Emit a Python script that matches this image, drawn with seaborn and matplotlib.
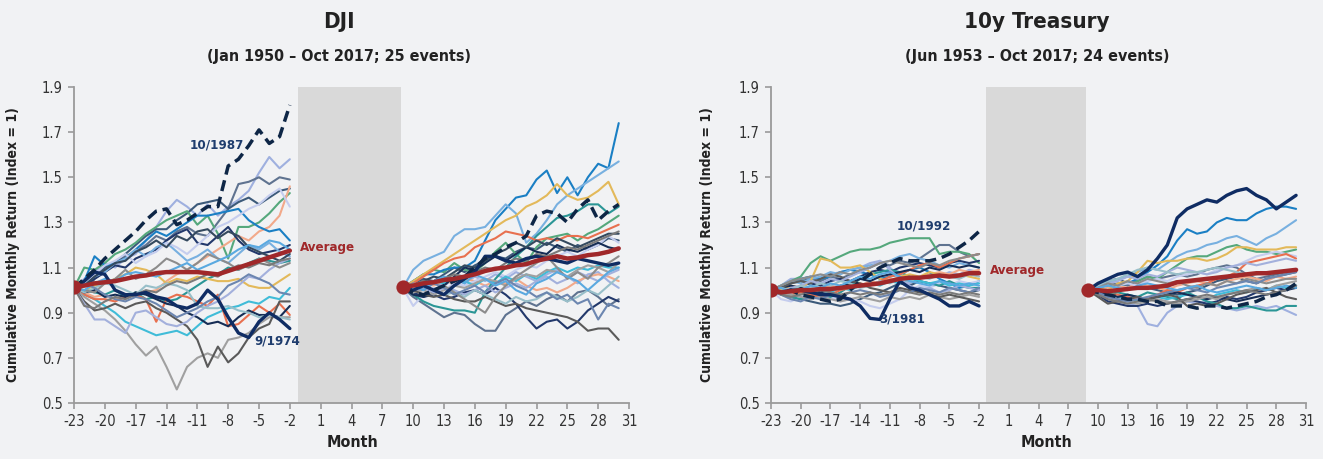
import numpy as np
import matplotlib
matplotlib.use("Agg")
import matplotlib.pyplot as plt
from matplotlib import font_manager as fm
import seaborn as sns

# ---------------- data ----------------
months_pre = list(range(-23, -1))   # -23 .. -2
months_post = list(range(9, 31))    # 9 .. 30
x_ticks = list(range(-23, 32, 3))
y_ticks = [0.5, 0.7, 0.9, 1.1, 1.3, 1.5, 1.7, 1.9]

dji_title = "DJI"
dji_subtitle = "(Jan 1950 \u2013 Oct 2017; 25 events)"
tsy_title = "10y Treasury"
tsy_subtitle = "(Jun 1953 \u2013 Oct 2017; 24 events)"

# DJI: highlighted episodes and cross-event average
dji_pre_1987 = [1.01, 1.05, 1.09, 1.14, 1.18, 1.22, 1.26, 1.31, 1.35, 1.36, 1.29, 1.31, 1.34, 1.37, 1.37, 1.55, 1.58, 1.64, 1.71, 1.65, 1.68, 1.82]
dji_post_1987 = [1.01, 0.99, 0.98, 1.00, 1.02, 1.04, 1.06, 1.10, 1.14, 1.16, 1.19, 1.21, 1.24, 1.33, 1.35, 1.34, 1.30, 1.36, 1.40, 1.31, 1.35, 1.38]
dji_pre_1974 = [1.01, 1.04, 1.08, 1.07, 1.00, 0.98, 0.98, 0.99, 0.97, 0.96, 0.93, 0.92, 0.94, 1.00, 0.96, 0.88, 0.81, 0.79, 0.86, 0.90, 0.87, 0.83]
dji_post_1974 = [1.01, 1.00, 1.02, 1.00, 0.98, 1.02, 1.05, 1.08, 1.15, 1.15, 1.13, 1.12, 1.14, 1.15, 1.14, 1.13, 1.12, 1.14, 1.13, 1.12, 1.11, 1.12]
dji_pre_avg = [1.015, 1.02, 1.03, 1.035, 1.04, 1.05, 1.06, 1.065, 1.075, 1.08, 1.08, 1.08, 1.08, 1.075, 1.07, 1.085, 1.10, 1.115, 1.13, 1.145, 1.16, 1.175]
dji_post_avg = [1.015, 1.02, 1.03, 1.035, 1.045, 1.05, 1.06, 1.07, 1.085, 1.095, 1.10, 1.11, 1.115, 1.13, 1.14, 1.15, 1.14, 1.145, 1.155, 1.16, 1.17, 1.185]

# DJI: remaining episodes (same order in both windows)
dji_pre_other = [
    [1.01, 1.05, 1.08, 1.12, 1.10, 1.14, 1.16, 1.22, 1.28, 1.35, 1.40, 1.37, 1.33, 1.38, 1.33, 1.37, 1.40, 1.44, 1.52, 1.59, 1.54, 1.58],
    [1.01, 0.98, 1.05, 1.08, 1.12, 1.15, 1.17, 1.20, 1.24, 1.22, 1.26, 1.28, 1.25, 1.24, 1.30, 1.36, 1.47, 1.48, 1.50, 1.47, 1.50, 1.49],
    [1.01, 1.03, 1.06, 1.10, 1.12, 1.16, 1.20, 1.24, 1.27, 1.27, 1.31, 1.34, 1.38, 1.39, 1.40, 1.36, 1.39, 1.41, 1.38, 1.41, 1.44, 1.45],
    [1.01, 1.10, 1.09, 1.12, 1.16, 1.18, 1.21, 1.25, 1.28, 1.31, 1.33, 1.35, 1.29, 1.33, 1.25, 1.14, 1.28, 1.28, 1.30, 1.34, 1.39, 1.43],
    [1.01, 0.99, 0.97, 0.98, 0.96, 0.98, 0.97, 0.99, 1.00, 1.04, 1.07, 1.09, 1.12, 1.15, 1.18, 1.21, 1.24, 1.22, 1.26, 1.28, 1.33, 1.46],
    [1.01, 1.04, 1.15, 1.11, 1.12, 1.14, 1.18, 1.22, 1.26, 1.24, 1.27, 1.30, 1.33, 1.33, 1.34, 1.35, 1.36, 1.31, 1.28, 1.26, 1.27, 1.22],
    [1.01, 1.02, 1.05, 1.08, 1.11, 1.10, 1.14, 1.16, 1.18, 1.22, 1.25, 1.27, 1.21, 1.20, 1.24, 1.28, 1.22, 1.18, 1.16, 1.17, 1.18, 1.20],
    [1.01, 1.03, 1.06, 1.08, 1.12, 1.14, 1.18, 1.15, 1.19, 1.21, 1.17, 1.13, 1.15, 1.18, 1.14, 1.12, 1.16, 1.20, 1.18, 1.21, 1.17, 1.15],
    [1.01, 1.03, 1.07, 1.11, 1.13, 1.16, 1.12, 1.15, 1.17, 1.21, 1.19, 1.16, 1.20, 1.24, 1.28, 1.30, 1.33, 1.36, 1.38, 1.42, 1.45, 1.37],
    [1.01, 1.00, 0.99, 0.98, 1.00, 0.97, 0.99, 0.96, 0.97, 0.95, 0.96, 0.99, 1.02, 1.05, 1.07, 1.10, 1.09, 1.12, 1.14, 1.13, 1.12, 1.13],
    [1.01, 1.00, 1.02, 1.03, 1.05, 1.07, 1.10, 1.09, 1.07, 1.03, 1.05, 1.04, 1.06, 1.05, 1.04, 1.04, 1.05, 1.02, 1.01, 1.01, 1.04, 1.07],
    [1.01, 0.98, 0.96, 0.93, 0.90, 0.86, 0.84, 0.82, 0.80, 0.81, 0.82, 0.80, 0.84, 0.88, 0.90, 0.92, 0.93, 0.95, 0.94, 0.97, 0.96, 1.01],
    [1.01, 0.98, 0.96, 0.96, 0.95, 0.97, 0.98, 0.96, 0.86, 0.96, 0.98, 0.97, 0.95, 0.93, 0.98, 0.84, 0.85, 0.89, 0.93, 0.90, 0.94, 0.89],
    [1.01, 0.99, 1.00, 0.97, 0.98, 0.97, 0.99, 0.98, 0.96, 0.94, 0.93, 0.90, 0.88, 0.85, 0.86, 0.84, 0.88, 0.91, 0.89, 0.89, 0.88, 0.93],
    [1.01, 0.97, 0.94, 0.91, 0.87, 0.82, 0.76, 0.71, 0.75, 0.66, 0.56, 0.66, 0.70, 0.72, 0.70, 0.78, 0.79, 0.81, 0.85, 0.88, 0.88, 0.88],
    [1.01, 0.95, 0.91, 0.92, 0.94, 0.92, 0.94, 0.95, 0.92, 0.90, 0.87, 0.84, 0.78, 0.66, 0.75, 0.68, 0.72, 0.79, 0.83, 0.85, 0.95, 0.95],
    [1.01, 0.94, 0.87, 0.87, 0.84, 0.81, 0.90, 0.91, 0.88, 0.85, 0.84, 0.86, 0.90, 0.93, 0.95, 0.98, 1.02, 1.06, 1.05, 1.09, 1.12, 1.14],
    [1.01, 0.99, 1.01, 1.03, 1.02, 1.00, 0.98, 1.02, 1.01, 1.03, 1.02, 1.00, 0.93, 0.92, 0.92, 0.93, 0.91, 0.90, 0.88, 0.89, 0.88, 0.87],
    [1.01, 1.00, 0.99, 1.03, 1.05, 1.09, 1.05, 1.07, 1.10, 1.14, 1.12, 1.09, 1.12, 1.16, 1.14, 1.12, 1.09, 1.11, 1.14, 1.12, 1.10, 1.12],
    [1.01, 1.03, 1.01, 0.98, 0.96, 0.95, 0.97, 0.96, 0.94, 0.91, 0.88, 0.90, 0.92, 0.95, 0.97, 1.02, 1.04, 1.07, 1.05, 1.03, 0.99, 0.98],
    [1.01, 1.02, 1.06, 1.09, 1.12, 1.13, 1.17, 1.19, 1.22, 1.19, 1.24, 1.22, 1.26, 1.27, 1.23, 1.26, 1.24, 1.19, 1.17, 1.15, 1.13, 1.16],
    [1.01, 1.00, 1.03, 1.05, 1.04, 1.07, 1.08, 1.07, 1.06, 1.08, 1.10, 1.12, 1.09, 1.11, 1.13, 1.15, 1.18, 1.20, 1.19, 1.22, 1.21, 1.18],
    [1.01, 0.93, 0.92, 0.95, 0.97, 0.96, 0.98, 1.00, 0.99, 1.02, 1.04, 1.03, 1.05, 1.07, 1.06, 1.09, 1.11, 1.10, 1.12, 1.11, 1.13, 1.14],
]
dji_post_other = [
    [1.01, 0.99, 1.01, 1.03, 1.02, 1.05, 1.03, 1.06, 1.04, 1.07, 1.05, 1.08, 1.06, 1.04, 1.07, 1.09, 1.06, 1.03, 1.07, 1.08, 1.04, 1.01],
    [1.01, 0.97, 0.94, 0.91, 0.88, 0.90, 0.89, 0.85, 0.82, 0.82, 0.89, 0.92, 0.95, 0.93, 0.96, 0.98, 0.95, 0.99, 1.00, 0.97, 0.93, 0.96],
    [1.01, 1.03, 1.05, 1.04, 1.07, 1.10, 1.08, 1.11, 1.13, 1.15, 1.14, 1.17, 1.19, 1.18, 1.21, 1.19, 1.17, 1.20, 1.18, 1.20, 1.23, 1.22],
    [1.01, 1.04, 1.07, 1.09, 1.08, 1.12, 1.09, 1.08, 1.12, 1.17, 1.21, 1.16, 1.12, 1.19, 1.23, 1.24, 1.25, 1.22, 1.25, 1.27, 1.30, 1.33],
    [1.01, 1.02, 1.03, 1.02, 1.04, 1.03, 1.05, 1.04, 1.02, 1.04, 1.03, 1.05, 1.02, 1.00, 1.01, 0.99, 1.01, 1.04, 1.06, 1.07, 1.06, 1.04],
    [1.01, 1.04, 1.07, 1.07, 1.09, 1.10, 1.10, 1.13, 1.22, 1.31, 1.36, 1.41, 1.42, 1.49, 1.53, 1.43, 1.50, 1.42, 1.50, 1.56, 1.54, 1.74],
    [1.01, 0.99, 0.97, 0.98, 0.96, 0.97, 0.99, 1.00, 0.98, 1.01, 0.98, 0.94, 0.88, 0.83, 0.86, 0.87, 0.83, 0.86, 0.91, 0.94, 0.97, 0.95],
    [1.01, 1.09, 1.13, 1.15, 1.17, 1.24, 1.27, 1.27, 1.28, 1.33, 1.38, 1.34, 1.21, 1.25, 1.31, 1.38, 1.42, 1.45, 1.48, 1.51, 1.54, 1.57],
    [1.01, 0.93, 0.98, 1.01, 1.00, 1.03, 1.02, 1.04, 1.06, 1.08, 1.06, 1.09, 1.11, 1.10, 1.13, 1.15, 1.17, 1.15, 1.18, 1.20, 1.24, 1.21],
    [1.01, 0.98, 0.95, 0.93, 0.92, 0.91, 0.91, 0.90, 0.99, 1.05, 1.10, 1.15, 1.19, 1.24, 1.28, 1.32, 1.33, 1.35, 1.38, 1.38, 1.34, 1.37],
    [1.01, 1.04, 1.07, 1.10, 1.13, 1.16, 1.19, 1.22, 1.25, 1.28, 1.31, 1.33, 1.37, 1.39, 1.42, 1.47, 1.42, 1.40, 1.41, 1.44, 1.48, 1.38],
    [1.01, 1.00, 1.02, 1.04, 1.03, 1.05, 1.04, 1.02, 1.05, 1.03, 1.06, 1.04, 1.07, 1.05, 1.08, 1.10, 1.08, 1.10, 1.09, 1.11, 1.10, 1.10],
    [1.01, 1.03, 1.06, 1.09, 1.12, 1.14, 1.15, 1.19, 1.21, 1.23, 1.26, 1.25, 1.24, 1.22, 1.23, 1.22, 1.24, 1.24, 1.23, 1.25, 1.27, 1.29],
    [1.01, 0.98, 0.97, 0.99, 1.02, 1.06, 1.10, 1.09, 1.12, 1.15, 1.13, 1.16, 1.19, 1.17, 1.16, 1.20, 1.18, 1.17, 1.19, 1.21, 1.19, 1.18],
    [1.01, 0.99, 1.00, 0.98, 1.00, 1.02, 1.01, 1.03, 1.05, 1.04, 1.02, 1.05, 1.07, 1.06, 1.09, 1.08, 1.06, 1.09, 1.11, 1.10, 1.08, 1.12],
    [1.01, 1.00, 0.98, 0.97, 0.98, 0.96, 0.95, 0.95, 0.97, 0.95, 0.93, 0.94, 0.92, 0.91, 0.90, 0.89, 0.88, 0.86, 0.82, 0.83, 0.83, 0.78],
    [1.01, 1.03, 1.01, 0.99, 1.01, 1.00, 0.98, 1.00, 1.02, 0.99, 1.01, 1.03, 1.01, 1.04, 1.06, 1.03, 1.05, 1.08, 1.06, 1.04, 1.07, 1.09],
    [1.01, 1.00, 1.02, 1.00, 0.98, 0.99, 0.97, 1.00, 0.98, 0.96, 0.94, 0.97, 0.95, 0.96, 0.99, 0.97, 0.95, 0.97, 1.00, 0.98, 1.02, 1.06],
    [1.01, 1.03, 1.02, 1.00, 1.02, 0.99, 0.96, 0.93, 0.90, 0.97, 1.02, 1.06, 1.09, 1.12, 1.15, 1.10, 1.05, 1.08, 1.05, 1.10, 1.12, 1.15],
    [1.01, 1.02, 1.00, 1.03, 1.01, 0.98, 1.00, 1.02, 0.99, 1.03, 1.05, 1.02, 1.00, 0.97, 0.99, 0.96, 0.98, 0.94, 0.96, 0.87, 0.94, 0.92],
    [1.01, 1.02, 1.04, 1.06, 1.05, 1.08, 1.11, 1.10, 1.13, 1.16, 1.18, 1.21, 1.19, 1.22, 1.20, 1.23, 1.21, 1.19, 1.21, 1.23, 1.25, 1.25],
    [1.01, 1.02, 1.00, 1.04, 1.06, 1.05, 1.03, 1.07, 1.05, 1.02, 1.04, 1.00, 0.98, 1.03, 1.05, 1.08, 1.06, 1.04, 1.00, 1.04, 1.08, 1.10],
    [1.01, 1.02, 1.04, 1.03, 1.05, 1.07, 1.06, 1.08, 1.10, 1.09, 1.12, 1.14, 1.13, 1.16, 1.15, 1.17, 1.19, 1.18, 1.20, 1.22, 1.24, 1.26],
]

# 10y Treasury: highlighted episodes and cross-event average
tsy_pre_1992 = [1.00, 0.99, 1.00, 0.98, 0.97, 0.96, 0.95, 0.96, 1.00, 1.04, 1.07, 1.10, 1.12, 1.14, 1.13, 1.13, 1.13, 1.14, 1.16, 1.19, 1.22, 1.26]
tsy_post_1992 = [1.00, 0.99, 0.98, 0.97, 0.96, 0.96, 0.95, 0.95, 0.93, 0.93, 0.93, 0.92, 0.93, 0.93, 0.92, 0.93, 0.94, 0.95, 0.97, 0.98, 1.00, 1.03]
tsy_pre_1981 = [1.00, 0.99, 1.00, 1.00, 0.99, 0.98, 0.98, 0.97, 0.96, 0.93, 0.875, 0.87, 0.96, 1.04, 1.01, 1.00, 0.98, 0.96, 0.93, 0.93, 0.95, 0.93]
tsy_post_1981 = [1.00, 1.03, 1.05, 1.07, 1.08, 1.06, 1.09, 1.14, 1.20, 1.32, 1.36, 1.38, 1.40, 1.39, 1.42, 1.44, 1.45, 1.42, 1.40, 1.36, 1.39, 1.42]
tsy_pre_avg = [1.00, 0.99, 0.995, 1.00, 1.00, 1.005, 1.005, 1.01, 1.015, 1.02, 1.025, 1.03, 1.04, 1.05, 1.055, 1.055, 1.06, 1.065, 1.06, 1.065, 1.075, 1.075]
tsy_post_avg = [1.00, 1.00, 0.995, 1.00, 1.005, 1.01, 1.01, 1.015, 1.02, 1.035, 1.04, 1.045, 1.05, 1.055, 1.06, 1.065, 1.07, 1.075, 1.075, 1.08, 1.085, 1.09]

tsy_pre_other = [
    [1.00, 1.02, 1.05, 1.05, 1.06, 1.05, 1.07, 1.08, 1.09, 1.10, 1.12, 1.13, 1.10, 1.06, 1.03, 1.05, 1.07, 1.06, 1.08, 1.07, 1.09, 1.08],
    [1.00, 1.01, 1.03, 1.04, 1.05, 1.04, 1.06, 1.05, 1.07, 1.08, 1.10, 1.12, 1.11, 1.13, 1.12, 1.14, 1.17, 1.20, 1.20, 1.17, 1.15, 1.16],
    [1.00, 0.99, 0.97, 0.96, 0.95, 0.94, 0.94, 0.93, 0.94, 0.96, 0.98, 0.99, 1.01, 1.03, 1.02, 1.04, 1.03, 1.02, 1.01, 1.00, 0.99, 1.00],
    [1.00, 1.02, 1.04, 1.06, 1.12, 1.15, 1.13, 1.15, 1.17, 1.18, 1.18, 1.19, 1.21, 1.22, 1.23, 1.23, 1.23, 1.16, 1.17, 1.17, 1.16, 1.12],
    [1.00, 1.00, 1.01, 1.00, 0.99, 1.01, 1.02, 1.01, 1.03, 1.02, 1.04, 1.03, 1.05, 1.04, 1.06, 1.05, 1.07, 1.08, 1.07, 1.09, 1.08, 1.09],
    [1.00, 1.01, 1.03, 1.05, 1.06, 1.05, 1.06, 1.08, 1.09, 1.08, 1.07, 1.05, 1.06, 1.07, 1.09, 1.10, 1.08, 1.05, 1.03, 1.01, 1.02, 1.04],
    [1.00, 1.01, 1.00, 1.02, 1.03, 1.02, 1.04, 1.05, 1.04, 1.06, 1.08, 1.09, 1.08, 1.10, 1.11, 1.12, 1.11, 1.10, 1.12, 1.13, 1.12, 1.13],
    [1.00, 1.02, 1.04, 1.03, 1.05, 1.06, 1.08, 1.07, 1.09, 1.10, 1.11, 1.12, 1.13, 1.15, 1.16, 1.14, 1.13, 1.11, 1.10, 1.12, 1.11, 1.10],
    [1.00, 0.96, 0.95, 0.97, 0.98, 0.96, 0.97, 0.95, 0.96, 0.95, 0.93, 0.92, 0.94, 0.96, 1.00, 1.02, 1.01, 1.03, 1.02, 1.04, 1.03, 1.04],
    [1.00, 0.99, 0.97, 0.96, 0.97, 0.98, 0.97, 0.99, 1.02, 1.05, 1.07, 1.08, 1.09, 1.08, 1.06, 1.04, 1.03, 1.02, 1.04, 1.02, 1.01, 1.01],
    [1.00, 1.00, 1.02, 1.01, 1.04, 1.14, 1.13, 1.10, 1.10, 1.11, 1.08, 1.05, 1.04, 1.06, 1.07, 1.06, 1.08, 1.07, 1.06, 1.07, 1.06, 1.05],
    [1.00, 0.98, 0.97, 0.99, 1.00, 0.98, 0.99, 1.01, 1.00, 1.02, 1.03, 1.02, 1.04, 1.03, 1.05, 1.04, 1.03, 1.04, 1.02, 1.03, 1.02, 1.03],
    [1.00, 0.99, 0.98, 0.99, 0.98, 0.97, 0.98, 1.00, 1.01, 1.03, 1.02, 1.04, 1.06, 1.07, 1.09, 1.11, 1.12, 1.10, 1.12, 1.14, 1.15, 1.16],
    [1.00, 1.01, 1.02, 1.01, 1.00, 0.99, 1.00, 1.02, 1.03, 1.05, 1.04, 1.06, 1.07, 1.08, 1.09, 1.08, 1.10, 1.09, 1.11, 1.10, 1.11, 1.10],
    [1.00, 0.99, 0.98, 0.97, 0.96, 0.97, 0.96, 0.95, 0.96, 0.97, 0.96, 0.95, 0.97, 0.96, 0.97, 0.96, 0.98, 0.97, 0.96, 0.97, 0.98, 0.97],
    [1.00, 1.01, 1.03, 1.04, 1.03, 1.05, 1.07, 1.06, 1.04, 1.03, 1.01, 1.00, 0.99, 1.01, 1.00, 0.99, 0.98, 0.97, 0.98, 0.97, 0.96, 0.95],
    [1.00, 0.99, 1.01, 1.02, 1.04, 1.03, 1.05, 1.04, 1.06, 1.08, 1.10, 1.13, 1.09, 1.05, 1.02, 1.00, 1.01, 0.99, 1.00, 1.02, 1.01, 1.00],
    [1.00, 1.01, 1.00, 1.02, 1.01, 1.03, 1.02, 1.04, 1.03, 1.01, 1.02, 1.04, 1.03, 1.05, 1.04, 1.06, 1.05, 1.07, 1.06, 1.05, 1.07, 1.06],
    [1.00, 1.02, 1.04, 1.05, 1.06, 1.07, 1.06, 1.08, 1.07, 1.09, 1.10, 1.12, 1.13, 1.12, 1.11, 1.10, 1.12, 1.11, 1.13, 1.14, 1.15, 1.16],
    [1.00, 0.98, 0.96, 0.95, 0.97, 0.96, 0.98, 0.97, 0.99, 1.00, 0.99, 0.97, 0.98, 1.00, 0.99, 1.01, 1.00, 0.99, 1.01, 1.00, 0.99, 1.01],
    [1.00, 1.01, 0.99, 1.00, 1.02, 1.01, 1.03, 1.02, 1.04, 1.06, 1.05, 1.07, 1.08, 1.06, 1.04, 1.03, 1.02, 1.04, 1.03, 1.02, 1.03, 1.02],
    [1.00, 0.98, 0.97, 0.98, 0.99, 1.00, 0.99, 0.98, 0.99, 0.98, 0.99, 0.98, 0.99, 1.00, 0.99, 0.98, 0.99, 0.98, 0.99, 0.98, 0.99, 0.98],
]
tsy_post_other = [
    [1.00, 0.98, 0.96, 0.95, 0.94, 0.93, 0.85, 0.84, 0.90, 0.93, 0.95, 0.94, 0.95, 0.93, 0.92, 0.91, 0.92, 0.93, 0.92, 0.93, 0.91, 0.89],
    [1.00, 1.01, 1.02, 1.03, 1.02, 1.04, 1.06, 1.05, 1.06, 1.07, 1.06, 1.07, 1.09, 1.10, 1.11, 1.10, 1.07, 1.05, 1.06, 1.07, 1.08, 1.08],
    [1.00, 1.02, 1.04, 1.05, 1.03, 1.02, 1.01, 1.00, 0.99, 0.98, 0.99, 1.00, 1.02, 1.04, 1.05, 1.06, 1.04, 1.03, 1.05, 1.06, 1.07, 1.08],
    [1.00, 0.99, 1.01, 1.02, 1.03, 1.04, 1.06, 1.05, 1.08, 1.11, 1.14, 1.15, 1.15, 1.17, 1.19, 1.20, 1.18, 1.17, 1.17, 1.16, 1.17, 1.18],
    [1.00, 1.00, 1.01, 1.02, 1.01, 1.03, 1.02, 1.01, 1.00, 1.02, 1.03, 1.04, 1.03, 1.02, 1.04, 1.05, 1.06, 1.05, 1.04, 1.06, 1.05, 1.06],
    [1.00, 1.01, 1.00, 1.02, 1.03, 1.05, 1.08, 1.11, 1.15, 1.22, 1.27, 1.25, 1.26, 1.30, 1.32, 1.31, 1.31, 1.34, 1.36, 1.37, 1.37, 1.36],
    [1.00, 0.98, 0.95, 0.94, 0.93, 0.93, 0.94, 0.93, 0.94, 0.95, 0.96, 0.95, 0.94, 0.95, 0.97, 0.96, 0.97, 0.99, 1.00, 1.01, 1.00, 1.02],
    [1.00, 1.01, 1.03, 1.05, 1.06, 1.08, 1.10, 1.09, 1.12, 1.15, 1.17, 1.18, 1.20, 1.21, 1.23, 1.24, 1.22, 1.20, 1.23, 1.25, 1.28, 1.31],
    [1.00, 1.01, 1.00, 1.02, 1.03, 1.02, 1.04, 1.05, 1.04, 1.06, 1.07, 1.08, 1.07, 1.09, 1.10, 1.11, 1.13, 1.15, 1.16, 1.17, 1.16, 1.15],
    [1.00, 0.99, 0.98, 0.99, 0.98, 0.97, 0.99, 0.98, 0.97, 0.96, 0.99, 0.97, 0.95, 0.94, 0.92, 0.92, 0.93, 0.92, 0.91, 0.91, 0.93, 0.93],
    [1.00, 1.01, 1.00, 1.03, 1.04, 1.08, 1.13, 1.12, 1.13, 1.13, 1.14, 1.14, 1.13, 1.14, 1.16, 1.19, 1.19, 1.18, 1.18, 1.18, 1.19, 1.19],
    [1.00, 0.99, 0.98, 0.97, 0.96, 0.95, 0.96, 0.97, 0.96, 0.97, 0.98, 0.97, 0.96, 0.98, 0.99, 1.00, 0.99, 1.01, 1.00, 1.02, 1.01, 1.02],
    [1.00, 0.99, 0.98, 0.98, 0.97, 0.96, 0.96, 0.98, 1.00, 0.99, 1.01, 1.02, 1.03, 1.05, 1.06, 1.08, 1.12, 1.13, 1.14, 1.15, 1.16, 1.14],
    [1.00, 0.99, 0.98, 0.97, 0.98, 0.97, 0.96, 0.97, 0.98, 0.99, 0.98, 0.97, 0.96, 0.97, 0.96, 0.95, 0.96, 0.97, 0.98, 0.99, 1.00, 1.01],
    [1.00, 0.98, 0.97, 0.96, 0.95, 0.94, 0.95, 0.96, 0.95, 0.94, 0.95, 0.96, 0.97, 0.96, 0.98, 0.99, 1.00, 1.01, 1.00, 1.02, 1.03, 1.04],
    [1.00, 0.97, 0.94, 0.95, 0.96, 0.97, 0.96, 0.97, 0.98, 0.97, 0.93, 0.94, 0.93, 0.94, 0.96, 0.98, 0.99, 1.00, 1.01, 0.99, 0.97, 0.96],
    [1.00, 1.01, 1.03, 1.04, 1.06, 1.05, 1.07, 1.06, 1.08, 1.10, 1.09, 1.08, 1.07, 1.08, 1.10, 1.11, 1.12, 1.11, 1.12, 1.13, 1.14, 1.13],
    [1.00, 1.02, 1.04, 1.05, 1.07, 1.09, 1.10, 1.09, 1.08, 1.07, 1.08, 1.08, 1.09, 1.10, 1.09, 1.08, 1.07, 1.07, 1.08, 1.08, 1.08, 1.09],
    [1.00, 1.01, 1.03, 1.02, 1.04, 1.03, 1.05, 1.04, 1.03, 1.04, 1.02, 1.01, 1.03, 1.02, 1.04, 1.03, 1.05, 1.04, 1.03, 1.04, 1.05, 1.05],
    [1.00, 0.99, 0.97, 0.96, 0.95, 0.96, 0.97, 0.98, 0.99, 1.00, 1.01, 1.00, 0.99, 1.01, 1.02, 1.03, 1.04, 1.03, 1.05, 1.06, 1.07, 1.08],
    [1.00, 1.01, 1.02, 1.01, 1.00, 1.02, 1.03, 1.02, 1.01, 1.00, 1.01, 1.02, 1.00, 0.99, 1.00, 1.01, 1.02, 1.01, 1.00, 1.01, 1.02, 1.01],
    [1.00, 0.98, 0.96, 0.95, 0.94, 0.95, 0.96, 0.95, 0.94, 0.95, 0.96, 0.97, 0.98, 0.97, 0.98, 0.99, 1.00, 0.99, 0.98, 0.99, 1.00, 1.02],
]

# ---------------- styling ----------------
BG = "#f1f2f4"
BAND = "#d9d9d9"
AVG_RED = "#a0282a"
NAVY_DASH = "#0e2646"
NAVY_BOLD = "#0f2c63"
LABEL_NAVY = "#1f3d6e"
SPINE = "#9a9a9a"
TEXT = "#222222"

dji_colors = ["#9fb0df", "#5f7390", "#3c5a7a", "#55a87c", "#f2a98a", "#1a7fc4",
              "#22386b", "#78b0e0", "#c5cdee", "#2b9696", "#e3b95a", "#40bcd8",
              "#e8704f", "#162d55", "#a0a0a0", "#5a5a5a", "#a3b0dc", "#98bfc9",
              "#8c8c8c", "#6c86b0", "#34495e", "#5aa9e0", "#7a7a7a"]
tsy_colors = ["#9fb0df", "#5f7390", "#3c5a7a", "#55a87c", "#f2a98a", "#1a7fc4",
              "#22386b", "#78b0e0", "#c5cdee", "#2b9696", "#e3b95a", "#40bcd8",
              "#e8704f", "#162d55", "#a0a0a0", "#5a5a5a", "#a3b0dc", "#98bfc9",
              "#8c8c8c", "#6c86b0", "#5aa9e0", "#7a7a7a"]

sns.set_theme(style="ticks")
names = {f.name for f in fm.fontManager.ttflist}
if "Liberation Sans Narrow" in names:
    FAMILY, STRETCH = "Liberation Sans Narrow", "normal"
else:
    FAMILY, STRETCH = "DejaVu Sans", "condensed"
plt.rcParams["font.family"] = [FAMILY, "DejaVu Sans"]
plt.rcParams["font.stretch"] = STRETCH
plt.rcParams["axes.facecolor"] = BG
plt.rcParams["figure.facecolor"] = BG

W, H = 1323, 459
fig = plt.figure(figsize=(W / 100, H / 100), dpi=100)


def px_axes(left, right, top, bottom):
    return fig.add_axes([left / W, 1 - bottom / H, (right - left) / W, (bottom - top) / H])


def draw_panel(ax, pre_other, post_other, colors, pre_dash, post_dash,
               pre_bold, post_bold, pre_avg, post_avg):
    ax.axvspan(-1.25, 8.8, color=BAND, lw=0, zorder=0)
    for months, others in ((months_pre, pre_other), (months_post, post_other)):
        for vals, c in zip(others, colors):
            sns.lineplot(x=months, y=vals, ax=ax, color=c, linewidth=1.5,
                         estimator=None, sort=False, zorder=2)
    for months, vals in ((months_pre, pre_bold), (months_post, post_bold)):
        sns.lineplot(x=months, y=vals, ax=ax, color=NAVY_BOLD, linewidth=2.4,
                     estimator=None, sort=False, zorder=3)
    for months, vals in ((months_pre, pre_dash), (months_post, post_dash)):
        sns.lineplot(x=months, y=vals, ax=ax, color=NAVY_DASH, linewidth=2.5,
                     linestyle=(0, (3.2, 1.7)), estimator=None, sort=False, zorder=3)
    for months, vals in ((months_pre, pre_avg), (months_post, post_avg)):
        sns.lineplot(x=months, y=vals, ax=ax, color=AVG_RED, linewidth=3.2,
                     estimator=None, sort=False, zorder=4)
        sns.scatterplot(x=[months[0]], y=[vals[0]], ax=ax, color=AVG_RED,
                        s=105, linewidth=0, zorder=5)

    ax.set_xlim(-23, 31)
    ax.set_ylim(0.5, 1.9)
    ax.set_xticks(x_ticks)
    ax.set_xticklabels([str(t) for t in x_ticks])
    ax.set_yticks(y_ticks)
    ax.set_yticklabels([f"{t:.1f}" for t in y_ticks])
    ax.tick_params(axis="both", labelsize=10.5, colors=SPINE, labelcolor="#333333",
                   length=4, width=1.2, pad=4)
    for s in ("top", "right"):
        ax.spines[s].set_visible(False)
    for s in ("left", "bottom"):
        ax.spines[s].set_color(SPINE)
        ax.spines[s].set_linewidth(1.3)
    ax.set_xlabel("Month", fontsize=11.5, fontweight="bold", color=TEXT)
    ax.set_ylabel("Cumulative Monthly Return (Index = 1)", fontsize=10,
                  fontweight="bold", color=TEXT)


# ---------------- DJI ----------------
ax1 = px_axes(74, 629, 87, 403)
draw_panel(ax1, dji_pre_other, dji_post_other, dji_colors, dji_pre_1987, dji_post_1987,
           dji_pre_1974, dji_post_1974, dji_pre_avg, dji_post_avg)
ax1.yaxis.set_label_coords(-(74 - 20) / 555, 0.5)
ax1.xaxis.set_label_coords((352 - 74) / 555, -(435 - 403) / 316)
ax1.text(-9.1, 1.643, "10/1987", color=LABEL_NAVY, fontsize=9.5, fontweight="bold",
         ha="center", va="center", zorder=6)
ax1.text(-3.2, 0.775, "9/1974", color=LABEL_NAVY, fontsize=9.5, fontweight="bold",
         ha="center", va="center", zorder=6)
ax1.text(-1.0, 1.19, "Average", color=AVG_RED, fontsize=9.5, fontweight="bold",
         ha="left", va="center", zorder=6)

# ---------------- 10y Treasury ----------------
ax2 = px_axes(771, 1306, 87, 403)
draw_panel(ax2, tsy_pre_other, tsy_post_other, tsy_colors, tsy_pre_1992, tsy_post_1992,
           tsy_pre_1981, tsy_post_1981, tsy_pre_avg, tsy_post_avg)
ax2.yaxis.set_label_coords(-(771 - 714) / 535, 0.5)
ax2.xaxis.set_label_coords((1047 - 771) / 535, -(435 - 403) / 316)
ax2.text(-7.6, 1.284, "10/1992", color=LABEL_NAVY, fontsize=9.5, fontweight="bold",
         ha="center", va="center", zorder=6)
ax2.text(-9.8, 0.872, "3/1981", color=LABEL_NAVY, fontsize=9.5, fontweight="bold",
         ha="center", va="center", zorder=6)
ax2.text(-0.9, 1.086, "Average", color=AVG_RED, fontsize=9.5, fontweight="bold",
         ha="left", va="center", zorder=6)

# ---------------- titles ----------------
for cx, title, sub in ((339, dji_title, dji_subtitle), (1037, tsy_title, tsy_subtitle)):
    fig.text(cx / W, 1 - 22 / H, title, ha="center", va="center", fontsize=16,
             fontweight="bold", color=TEXT)
    fig.text(cx / W, 1 - 56 / H, sub, ha="center", va="center", fontsize=11.5,
             fontweight="bold", color=TEXT)

fig.savefig("out.png", dpi=100, facecolor=BG)
